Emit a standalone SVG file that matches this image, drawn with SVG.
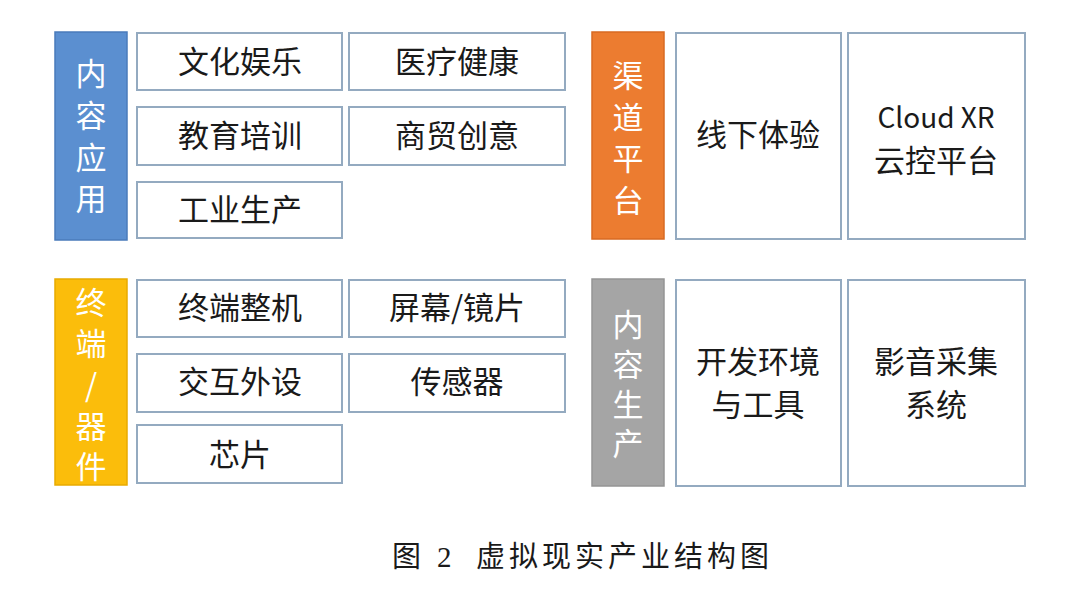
<svg xmlns="http://www.w3.org/2000/svg" width="1080" height="609" viewBox="0 0 1080 609">
<style>
.box{fill:#ffffff;stroke:#94aac0;stroke-width:2}
.t{font-family:"Noto Sans CJK SC","Microsoft YaHei",sans-serif;font-size:31px;fill:#1a1a1a;text-anchor:middle;dominant-baseline:central}
.e{font-size:28px}
.s{font-family:"Noto Sans CJK SC",sans-serif;font-size:31px;fill:#ffffff;text-anchor:middle;dominant-baseline:central}
.cap{font-family:"Liberation Serif","Noto Sans CJK SC",serif;font-size:29px;fill:#1a1a1a;dominant-baseline:central}
</style>
<rect width="1080" height="609" fill="#ffffff"/>
<g id="side-content-app">
<rect x="55" y="32" width="72" height="208" fill="#5b8fd0" stroke="#4a7bbb" stroke-width="1.5"/>
<text class="s" x="91" y="71">内</text><text class="s" x="91" y="113">容</text><text class="s" x="91" y="155">应</text><text class="s" x="91" y="196">用</text>
</g>
<g id="n-wenhua"><rect class="box" x="137" y="33" width="205" height="57"/><text class="t" x="240" y="59">文化娱乐</text></g>
<g id="n-yiliao"><rect class="box" x="349" y="33" width="216" height="57"/><text class="t" x="457" y="59">医疗健康</text></g>
<g id="n-jiaoyu"><rect class="box" x="137" y="107" width="205" height="58"/><text class="t" x="240" y="133">教育培训</text></g>
<g id="n-shangmao"><rect class="box" x="349" y="107" width="216" height="58"/><text class="t" x="457" y="133">商贸创意</text></g>
<g id="n-gongye"><rect class="box" x="137" y="182" width="205" height="56"/><text class="t" x="240" y="207">工业生产</text></g>

<g id="side-channel">
<rect x="592" y="32" width="72" height="207" fill="#ec7c30" stroke="#d86a22" stroke-width="1.5"/>
<text class="s" x="628" y="73">渠</text><text class="s" x="628" y="115">道</text><text class="s" x="628" y="156">平</text><text class="s" x="628" y="198">台</text>
</g>
<g id="n-xianxia"><rect class="box" x="676" y="33" width="165" height="206"/><text class="t" x="758" y="132">线下体验</text></g>
<g id="n-cloudxr"><rect class="box" x="848" y="33" width="177" height="206"/><text class="t e" x="936" y="116">Cloud XR</text><text class="t" x="936" y="158">云控平台</text></g>

<g id="side-terminal">
<rect x="55" y="279" width="72" height="206" fill="#fbbd0b" stroke="#e8ab00" stroke-width="1.5"/>
<text class="s" x="91" y="300">终</text><text class="s" x="91" y="341">端</text><text class="s" x="91" y="383">/</text><text class="s" x="91" y="424">器</text><text class="s" x="91" y="464">件</text>
</g>
<g id="n-zhengji"><rect class="box" x="137" y="280" width="205" height="57"/><text class="t" x="240" y="305">终端整机</text></g>
<g id="n-pingmu"><rect class="box" x="349" y="280" width="216" height="57"/><text class="t" x="457" y="305">屏幕/镜片</text></g>
<g id="n-jiaohu"><rect class="box" x="137" y="354" width="205" height="58"/><text class="t" x="240" y="379">交互外设</text></g>
<g id="n-chuanganqi"><rect class="box" x="349" y="354" width="216" height="58"/><text class="t" x="457" y="379">传感器</text></g>
<g id="n-xinpian"><rect class="box" x="137" y="425" width="205" height="58"/><text class="t" x="240" y="452">芯片</text></g>

<g id="side-production">
<rect x="592" y="279" width="72" height="207" fill="#a5a5a5" stroke="#959595" stroke-width="1.5"/>
<text class="s" x="628" y="322">内</text><text class="s" x="628" y="362">容</text><text class="s" x="628" y="402">生</text><text class="s" x="628" y="441">产</text>
</g>
<g id="n-kaifa"><rect class="box" x="676" y="280" width="165" height="206"/><text class="t" x="758" y="359">开发环境</text><text class="t" x="758" y="402">与工具</text></g>
<g id="n-yingyin"><rect class="box" x="848" y="280" width="177" height="206"/><text class="t" x="936" y="359">影音采集</text><text class="t" x="936" y="402">系统</text></g>

<g id="connectors"></g>

<text class="cap" y="557"><tspan x="392">图</tspan><tspan x="437">2</tspan><tspan x="476" letter-spacing="4">虚拟现实产业结构图</tspan></text>
</svg>
